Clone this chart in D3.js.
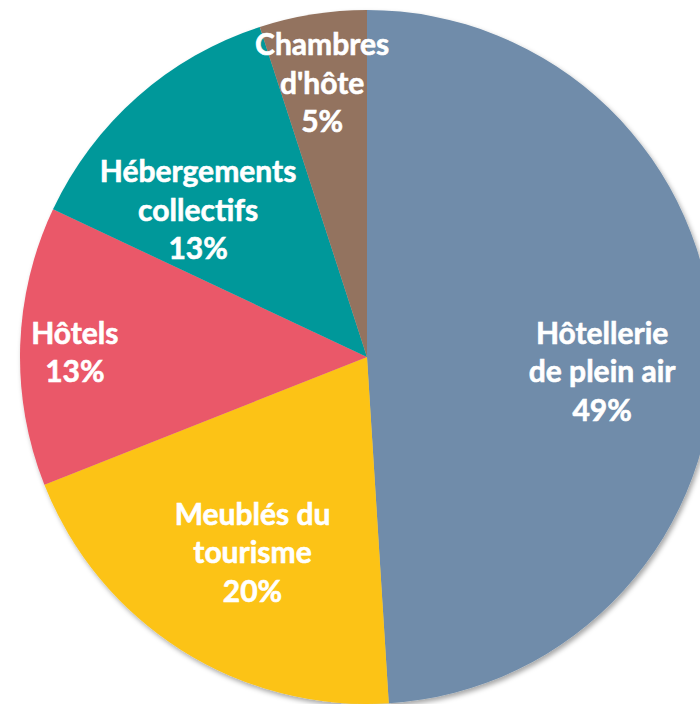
<!DOCTYPE html>
<html>
<head>
<meta charset="utf-8">
<script src="https://cdn.jsdelivr.net/npm/d3@7"></script>
<style>
  html, body { margin: 0; padding: 0; background: #fff; overflow: hidden; }
  svg { display: block; }
  .lbl { font-family: Lato, "Open Sans", sans-serif; font-weight: 700; fill: #fff;
         stroke: #fff; stroke-width: 0.6px; paint-order: stroke; }
</style>
</head>
<body>
<svg id="chart" width="700" height="704"></svg>
<script>
// Répartition des hébergements touristiques par type
const categories = [
  "Hôtellerie de plein air",
  "Meublés du tourisme",
  "Hôtels",
  "Hébergements collectifs",
  "Chambres d'hôte"
];
const shares = [49, 20, 13, 13, 5];
const labelLines = [
  ["Hôtellerie", "de plein air"],
  ["Meublés du", "tourisme"],
  ["Hôtels"],
  ["Hébergements", "collectifs"],
  ["Chambres", "d'hôte"]
];
const colors = ["#6F8CAA", "#FCC314", "#EA5869", "#00989A", "#93735F"];

const width = 700, height = 704;
const cx = 367, cy = 357, radius = 347;

const svg = d3.select("#chart");

const defs = svg.append("defs");
const shadow = defs.append("filter")
  .attr("id", "pieShadow")
  .attr("x", "-10%").attr("y", "-10%")
  .attr("width", "120%").attr("height", "120%");
shadow.append("feDropShadow")
  .attr("dx", 2).attr("dy", 3)
  .attr("stdDeviation", 2.5)
  .attr("flood-color", "#000")
  .attr("flood-opacity", 0.35);

const pie = d3.pie().sort(null).value(d => d.value);
const arcs = pie(categories.map((c, i) => ({ name: c, value: shares[i], i })));

const arc = d3.arc().innerRadius(0).outerRadius(radius);

const g = svg.append("g").attr("transform", `translate(${cx},${cy})`);

g.append("g")
  .attr("filter", "url(#pieShadow)")
  .selectAll("path")
  .data(arcs)
  .join("path")
  .attr("d", arc)
  .attr("fill", d => colors[d.data.i]);

// Best-fit label placement: radial distance (fraction of radius) and
// angular nudge (degrees) from each slice's mid-angle.
const labelFit = [
  { k: 0.679, da: 5.4 },
  { k: 0.654, da: -2.1 },
  { k: 0.842, da: -0.9 },
  { k: 0.645, da: -7.6 },
  { k: 0.800, da: -0.3 }
];

const fontSize = 30;
const lineH = 38.6;

g.append("g")
  .selectAll("text")
  .data(arcs)
  .join("text")
  .attr("class", "lbl")
  .attr("font-size", fontSize)
  .attr("text-anchor", "middle")
  .each(function(d) {
    const fit = labelFit[d.data.i];
    const mid = (d.startAngle + d.endAngle) / 2 + fit.da * Math.PI / 180;
    const r = fit.k * radius;
    const x = r * Math.sin(mid);
    const y = -r * Math.cos(mid);
    const lines = labelLines[d.data.i].concat([d.data.value + "%"]);
    const n = lines.length;
    const t = d3.select(this);
    lines.forEach((line, j) => {
      t.append("tspan")
        .attr("x", x)
        .attr("y", y + (j - (n - 1) / 2) * lineH)
        .attr("dy", "0.35em")
        .text(line);
    });
  });
</script>
</body>
</html>
